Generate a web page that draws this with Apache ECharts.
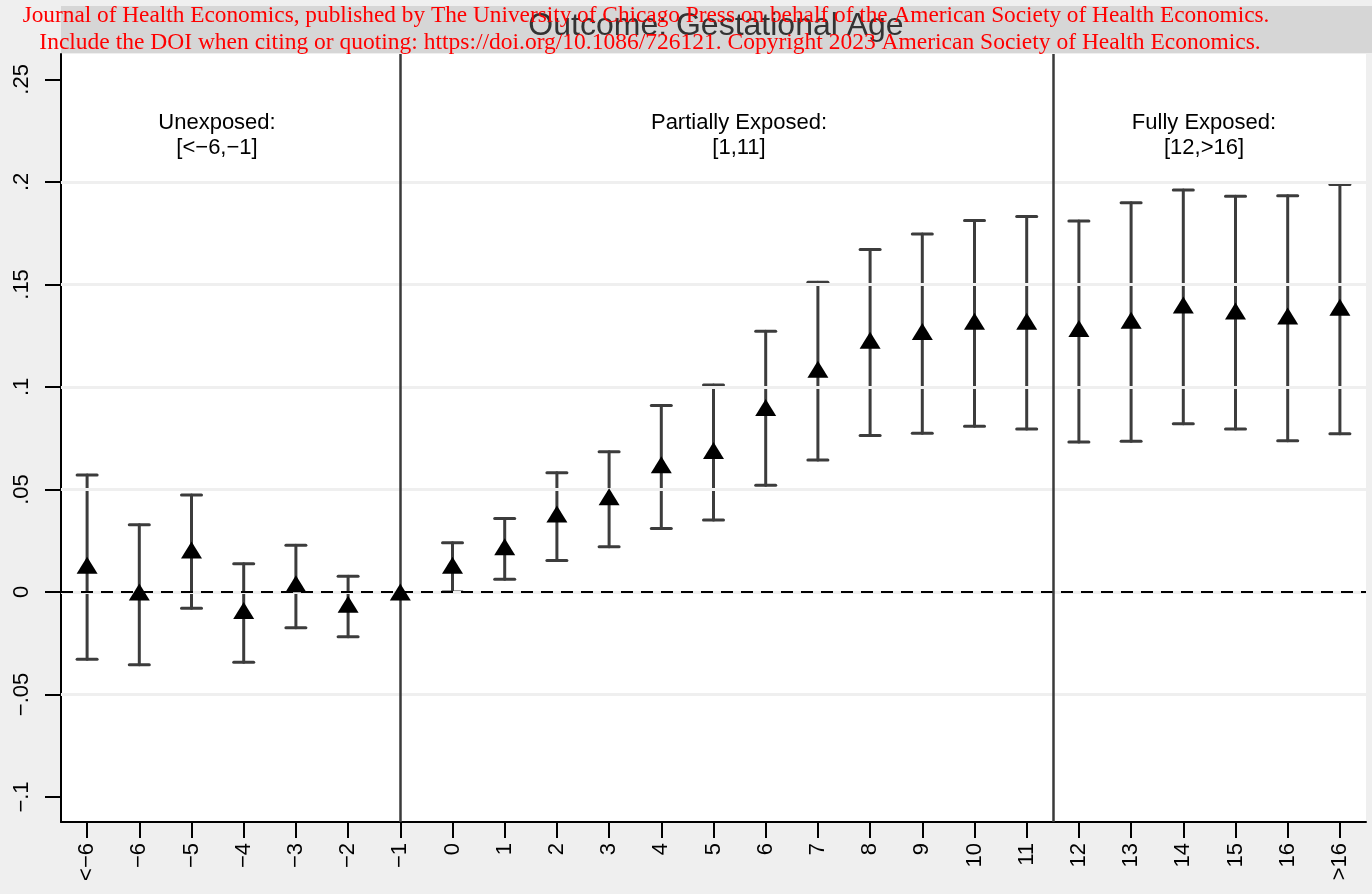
<!DOCTYPE html>
<html>
<head>
<meta charset="utf-8">
<script src="https://cdn.jsdelivr.net/npm/echarts@6/dist/echarts.min.js"></script>
<style>
html,body{margin:0;padding:0;background:#efefef;}
#chart{width:1372px;height:894px;}
</style>
</head>
<body>
<div id="chart"></div>
<script>
// ---- data ----
const xLabels = ['<\u22126','\u22126','\u22125','\u22124','\u22123','\u22122','\u22121','0','1','2','3','4','5','6','7','8','9','10','11','12','13','14','15','16','>16'];
const coef   = [0.0130, 0.0000, 0.0205, -0.0090, 0.0040, -0.0060, 0.0000, 0.0130, 0.0220, 0.0380, 0.0465, 0.0620, 0.0690, 0.0900, 0.1086, 0.1228, 0.1270, 0.1320, 0.1320, 0.1285, 0.1325, 0.1400, 0.1370, 0.1346, 0.1389];
const ciLow  = [-0.0328, -0.0355, -0.0080, -0.0343, -0.0174, -0.0218, null, 0.0000, 0.0062, 0.0153, 0.0221, 0.0309, 0.0351, 0.0520, 0.0644, 0.0763, 0.0774, 0.0808, 0.0795, 0.0732, 0.0735, 0.0820, 0.0795, 0.0738, 0.0772];
const ciHigh = [0.0571, 0.0328, 0.0473, 0.0138, 0.0228, 0.0077, null, 0.0240, 0.0358, 0.0582, 0.0684, 0.0909, 0.1010, 0.1272, 0.1511, 0.1670, 0.1746, 0.1812, 0.1831, 0.1810, 0.1898, 0.1961, 0.1930, 0.1933, 0.1987];
const yTicks = [-0.1, -0.05, 0, 0.05, 0.1, 0.15, 0.2, 0.25];
const yTickLabels = ['\u2212.1', '\u2212.05', '0', '.05', '.1', '.15', '.2', '.25'];
const gridValues = [-0.05, 0, 0.05, 0.1, 0.15, 0.2];
const dividers = [6, 18.5];   // at category "-1" and between "11" and "12"
const yMin = -0.1122, yMax = 0.2624;
const titleText = 'Outcome: Gestational Age';
const sections = [
  {text: 'Unexposed:\n[<\u22126,\u22121]', x: 217},
  {text: 'Partially Exposed:\n[1,11]', x: 739},
  {text: 'Fully Exposed:\n[12,>16]', x: 1204}
];
const watermark = [
  'Journal of Health Economics, published by The University of Chicago Press on behalf of the American Society of Health Economics.',
  'Include the DOI when citing or quoting: https://doi.org/10.1086/726121. Copyright 2023 American Society of Health Economics.'
];

const ciData = [];
for (let i = 0; i < xLabels.length; i++) {
  if (ciLow[i] !== null && ciHigh[i] !== null) ciData.push([i, ciLow[i], ciHigh[i]]);
}

const FONT = "'Liberation Sans', Arial, Helvetica, sans-serif";
const SERIF = "'Liberation Serif', 'Times New Roman', serif";
const chart = echarts.init(document.getElementById('chart'), null, {renderer: 'canvas'});

function labelFor(v) {
  const k = yTicks.findIndex(t => Math.abs(t - v) < 1e-9);
  return k >= 0 ? yTickLabels[k] : '';
}

const option = {
  backgroundColor: '#efefef',
  animation: false,
  grid: {left: 61, right: 6, top: 54, bottom: 72, show: true, backgroundColor: '#ffffff', borderWidth: 0, containLabel: false},
  xAxis: [{
    type: 'category',
    data: xLabels,
    boundaryGap: true,
    axisLine: {show: true, onZero: false, lineStyle: {color: '#000', width: 2}},
    axisTick: {show: true, alignWithLabel: true, interval: 0, length: 16, lineStyle: {color: '#000', width: 2}},
    axisLabel: {interval: 0, rotate: 90, margin: 21, fontSize: 22, color: '#000', fontFamily: FONT},
    splitLine: {show: false}
  }, {
    type: 'value', min: -0.5, max: 24.5, show: false
  }],
  yAxis: {
    type: 'value',
    min: yMin, max: yMax,
    axisLine: {show: true, onZero: false, lineStyle: {color: '#000', width: 2}},
    axisTick: {show: true, length: 16, lineStyle: {color: '#000', width: 2}, customValues: yTicks},
    axisLabel: {rotate: 90, margin: 28, fontSize: 22, color: '#000', fontFamily: FONT, customValues: yTicks, formatter: labelFor},
    splitLine: {show: false}
  },
  series: [
    {
      type: 'line', xAxisIndex: 0, data: [], silent: true,
      markLine: {
        silent: true, symbol: ['none', 'none'], label: {show: false}, animation: false,
        lineStyle: {color: '#efefef', width: 3, type: 'solid'},
        data: gridValues.map(v => ({yAxis: v}))
      },
      z: 1
    },
    {
      type: 'line', xAxisIndex: 0, data: [], silent: true,
      markLine: {
        silent: true, symbol: ['none', 'none'], label: {show: false}, animation: false,
        lineStyle: {color: '#000', width: 2, type: [12, 8]},
        data: [{yAxis: 0}]
      },
      z: 2
    },
    {
      type: 'line', xAxisIndex: 1, data: [], silent: true,
      markLine: {
        silent: true, symbol: ['none', 'none'], label: {show: false}, animation: false,
        lineStyle: {color: '#3a3a3a', width: 2.5, type: 'solid'},
        data: dividers.map(v => ({xAxis: v}))
      },
      z: 3
    },
    {
      type: 'custom', xAxisIndex: 0,
      data: ciData,
      encode: {x: 0, y: [1, 2]},
      renderItem: function (params, api) {
        const i = api.value(0);
        const lo = api.coord([i, api.value(1)]);
        const hi = api.coord([i, api.value(2)]);
        const hw = 10;
        const st = {stroke: '#3c3c3c', lineWidth: 3, lineCap: 'round'};
        return {type: 'group', children: [
          {type: 'line', shape: {x1: lo[0], y1: lo[1], x2: hi[0], y2: hi[1]}, style: st},
          {type: 'line', shape: {x1: lo[0] - hw, y1: lo[1], x2: lo[0] + hw, y2: lo[1]}, style: st},
          {type: 'line', shape: {x1: hi[0] - hw, y1: hi[1], x2: hi[0] + hw, y2: hi[1]}, style: st}
        ]};
      },
      z: 4
    },
    {
      type: 'scatter', xAxisIndex: 0,
      data: coef,
      symbol: 'triangle', symbolSize: [21, 17],
      itemStyle: {color: '#000', opacity: 1},
      z: 5
    }
  ],
  graphic: [
    {type: 'rect', shape: {x: 61, y: 6, width: 1311, height: 47}, style: {fill: '#d6d6d6'}, z: 10},
    {type: 'text', x: 716, y: 26, style: {text: titleText, font: "32px " + FONT, fill: '#333333', textAlign: 'center', textVerticalAlign: 'middle'}, z: 11},
  ].concat(sections.map(s => ({
    type: 'text', x: s.x, y: 135, style: {text: s.text, font: "22px " + FONT, lineHeight: 25, fill: '#000', textAlign: 'center', textVerticalAlign: 'middle'}, z: 11
  }))).concat([
    {type: 'text', x: 646, y: 16, style: {text: watermark[0], font: "23.3px " + SERIF, fill: '#ff0000', textAlign: 'center', textVerticalAlign: 'middle'}, z: 20},
    {type: 'text', x: 650, y: 43, style: {text: watermark[1], font: "23.5px " + SERIF, fill: '#ff0000', textAlign: 'center', textVerticalAlign: 'middle'}, z: 20}
  ])
};
chart.setOption(option);
</script>
</body>
</html>
